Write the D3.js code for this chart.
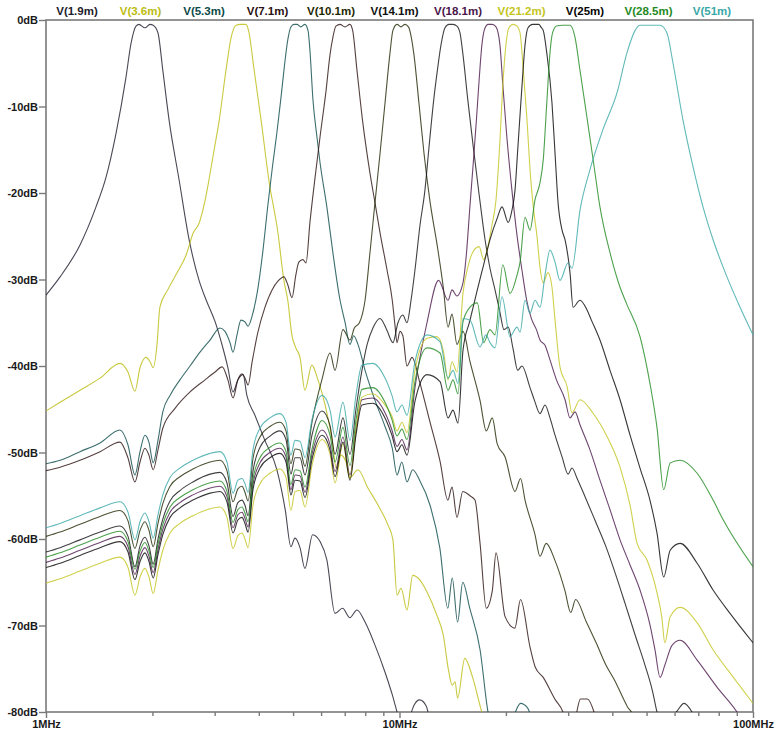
<!DOCTYPE html>
<html>
<head>
<meta charset="utf-8">
<script src="https://cdn.jsdelivr.net/npm/d3@7"></script>
<style>
body { margin: 0; background: #fff; }
text { font-family: Arial, "Liberation Sans", sans-serif; font-weight: bold; font-size: 11px; }
</style>
</head>
<body>
<div id="chart"></div>
<script>
// frequency in MHz, level in dB
var v1_9 = [[1.00,-31.8],[1.096,-29.7],[1.248,-26.0],[1.385,-21.6],[1.478,-18.2],[1.578,-13.1],[1.684,-6.6],[1.74,-2.7],[1.797,-0.7],[1.832,-0.5],[1.905,-0.9],[1.969,-0.5],[2.01,-0.6],[2.074,-1.5],[2.14,-5.8],[2.23,-11.6],[2.38,-18.5],[2.54,-25.4],[2.71,-30.1],[2.84,-32.4],[3.01,-34.9],[3.15,-37.6],[3.27,-40.2],[3.38,-43.0],[3.49,-41.6],[3.61,-41.0],[3.70,-43.4],[3.90,-45.7],[4.16,-48.6],[4.50,-52.0],[4.75,-56.6],[4.93,-60.9],[5.06,-59.9],[5.23,-61.0],[5.40,-63.4],[5.68,-59.5],[5.96,-60.3],[6.23,-62.4],[6.57,-68.6],[6.90,-68.0],[7.24,-69.1],[7.58,-68.2],[7.99,-69.6],[8.53,-72.3],[9.10,-75.4],[9.54,-78.0],[9.84,-80.0],[10.2,-82.0],[10.6,-81.0],[11.0,-79.2],[11.4,-78.6],[11.9,-79.3],[12.2,-81.0],[12.7,-83.0]];

var v3_6 = [[1.00,-45.2],[1.096,-44.2],[1.248,-42.8],[1.422,-41.4],[1.619,-39.7],[1.705,-40.7],[1.785,-42.9],[1.845,-40.2],[1.918,-39.0],[1.969,-39.5],[2.01,-40.2],[2.06,-37.6],[2.10,-33.2],[2.21,-31.2],[2.35,-29.2],[2.49,-27.2],[2.61,-24.6],[2.71,-23.5],[2.82,-20.8],[2.89,-18.5],[2.99,-15.0],[3.09,-11.6],[3.23,-5.8],[3.34,-2.0],[3.45,-0.6],[3.54,-0.5],[3.68,-0.5],[3.74,-1.2],[3.88,-5.8],[4.06,-11.6],[4.27,-18.5],[4.53,-24.6],[4.71,-30.1],[4.83,-32.4],[4.96,-36.4],[5.09,-37.9],[5.23,-39.0],[5.40,-42.8],[5.65,-39.9],[5.88,-41.6],[6.16,-44.5],[6.45,-48.6],[6.62,-51.8],[6.83,-50.3],[7.06,-51.1],[7.24,-52.9],[7.63,-52.0],[8.14,-54.1],[8.70,-56.1],[9.28,-58.4],[9.58,-60.1],[9.84,-66.5],[10.1,-65.7],[10.5,-68.2],[10.9,-64.2],[11.4,-64.7],[11.95,-66.1],[12.75,-68.8],[13.3,-71.1],[13.75,-75.1],[14.1,-76.9],[14.36,-76.5],[14.6,-78.4],[15.3,-73.8],[16.1,-76.0],[17.1,-80.0],[17.8,-82.0]];

var v5_3 = [[1.00,-51.3],[1.096,-50.9],[1.248,-49.9],[1.422,-48.9],[1.619,-47.4],[1.705,-49.1],[1.785,-52.6],[1.845,-49.9],[1.905,-48.0],[1.955,-48.8],[2.01,-51.2],[2.074,-48.6],[2.14,-45.3],[2.243,-43.4],[2.393,-41.6],[2.555,-40.0],[2.727,-38.4],[2.911,-37.0],[3.106,-35.6],[3.209,-36.0],[3.315,-37.3],[3.381,-38.4],[3.47,-36.4],[3.56,-34.7],[3.655,-34.9],[3.73,-35.4],[3.83,-34.2],[3.97,-31.2],[4.11,-26.6],[4.24,-21.5],[4.37,-17.0],[4.50,-13.0],[4.62,-9.0],[4.72,-5.5],[4.83,-2.3],[4.93,-0.8],[5.03,-0.5],[5.13,-0.5],[5.26,-0.8],[5.40,-0.5],[5.51,-1.2],[5.58,-3.5],[5.69,-9.2],[5.84,-13.5],[5.96,-16.5],[6.23,-21.6],[6.48,-26.9],[6.79,-32.4],[7.01,-34.9],[7.24,-37.5],[7.42,-36.5],[7.63,-37.5],[7.99,-40.5],[8.53,-44.0],[9.10,-47.0],[9.54,-49.5],[9.84,-52.6],[10.15,-51.1],[10.5,-53.4],[10.9,-52.0],[11.4,-53.2],[12.2,-56.1],[13.0,-61.0],[13.7,-68.0],[14.1,-64.5],[14.6,-69.6],[15.1,-65.0],[15.8,-68.0],[16.9,-72.8],[17.8,-80.0],[18.6,-82.5],[20.0,-82.0],[21.0,-80.5],[22.0,-79.0],[23.0,-79.5],[23.8,-81.0],[25.0,-84.0]];

var v7_1 = [[1.00,-52.1],[1.096,-51.7],[1.248,-50.9],[1.422,-49.9],[1.619,-48.8],[1.705,-50.6],[1.785,-53.4],[1.845,-51.1],[1.905,-49.5],[1.955,-50.3],[2.01,-52.0],[2.074,-49.7],[2.14,-47.2],[2.317,-44.9],[2.555,-43.0],[2.818,-41.6],[3.007,-40.7],[3.15,-40.1],[3.27,-41.6],[3.381,-43.7],[3.49,-41.6],[3.585,-40.9],[3.655,-41.4],[3.73,-42.2],[3.83,-39.5],[3.97,-36.2],[4.164,-33.2],[4.36,-31.2],[4.53,-30.2],[4.71,-29.7],[4.83,-30.6],[4.965,-32.1],[5.09,-29.5],[5.19,-28.0],[5.33,-27.7],[5.44,-28.1],[5.58,-23.4],[5.77,-18.2],[5.96,-13.5],[6.2,-8.1],[6.36,-4.0],[6.48,-2.0],[6.61,-0.7],[6.79,-0.5],[7.01,-0.8],[7.24,-0.5],[7.37,-1.2],[7.58,-5.8],[7.86,-11.6],[8.25,-17.7],[8.53,-21.2],[8.81,-24.6],[9.22,-28.9],[9.54,-32.4],[9.71,-35.3],[9.84,-37.3],[10.03,-36.0],[10.22,-36.5],[10.5,-40.0],[10.85,-39.0],[11.43,-42.0],[12.2,-46.5],[13.02,-51.0],[13.7,-55.5],[14.08,-54.0],[14.54,-57.5],[15.1,-54.5],[15.83,-55.0],[16.35,-55.5],[16.9,-60.5],[17.6,-68.0],[18.3,-66.0],[18.75,-61.6],[19.9,-69.0],[21.2,-70.3],[22.0,-67.0],[23.4,-72.5],[24.2,-74.8],[25.5,-76.0],[27.5,-78.5],[29.0,-80.0],[30.0,-82.0],[31.5,-80.5],[32.5,-78.5],[34.0,-78.5],[35.5,-80.0],[37.0,-83.0]];

var v10_1 = [[1.00,-59.7],[1.096,-59.2],[1.248,-58.3],[1.422,-57.4],[1.619,-56.7],[1.706,-57.9],[1.785,-61.1],[1.845,-59.0],[1.905,-58.0],[1.956,-59.0],[2.01,-60.9],[2.074,-58.2],[2.14,-55.9],[2.243,-53.9],[2.393,-52.8],[2.605,-51.9],[2.911,-51.1],[3.106,-50.9],[3.25,-52.1],[3.381,-55.7],[3.49,-54.2],[3.585,-53.9],[3.655,-54.6],[3.73,-55.6],[3.85,-50.7],[4.03,-48.2],[4.302,-47.0],[4.59,-46.5],[4.775,-47.5],[4.93,-51.3],[5.063,-49.6],[5.23,-49.7],[5.403,-51.6],[5.655,-46.5],[6.04,-41.5],[6.36,-38.5],[6.57,-40.5],[6.92,-35.8],[7.244,-37.0],[7.45,-35.6],[7.7,-35.0],[7.99,-32.4],[8.25,-26.9],[8.53,-21.0],[8.81,-15.4],[9.10,-9.6],[9.40,-3.8],[9.58,-1.2],[9.84,-0.5],[10.1,-0.8],[10.36,-0.5],[10.6,-0.8],[10.97,-3.8],[11.35,-9.6],[11.73,-15.4],[12.2,-21.0],[12.8,-26.2],[13.3,-30.9],[13.72,-35.5],[14.08,-34.0],[14.54,-37.5],[15.12,-36.0],[15.83,-39.5],[16.9,-44.0],[17.6,-47.5],[18.3,-46.0],[18.9,-49.0],[19.88,-50.5],[21.22,-54.5],[22.0,-53.0],[22.65,-55.5],[24.17,-59.5],[24.97,-62.0],[26.0,-60.5],[27.54,-62.5],[29.39,-66.0],[30.5,-68.5],[31.5,-67.0],[33.7,-69.5],[36.0,-72.0],[38.3,-74.5],[40.8,-76.5],[42.8,-78.3],[44.3,-79.5],[45.3,-80.0],[47.9,-82.7]];

var v14_1 = [[1.00,-61.5],[1.096,-61.0],[1.248,-60.1],[1.422,-59.2],[1.619,-58.5],[1.706,-59.7],[1.785,-63.2],[1.845,-60.8],[1.905,-59.8],[1.956,-60.8],[2.01,-62.9],[2.074,-60.0],[2.14,-57.7],[2.243,-55.6],[2.393,-54.4],[2.605,-53.4],[2.911,-52.5],[3.106,-52.3],[3.25,-53.5],[3.381,-57.4],[3.49,-55.8],[3.585,-55.5],[3.655,-56.1],[3.73,-57.3],[3.85,-52.2],[4.03,-49.4],[4.302,-48.1],[4.59,-47.5],[4.775,-48.5],[4.93,-52.5],[5.063,-50.6],[5.23,-50.6],[5.403,-52.6],[5.655,-48.0],[6.04,-45.2],[6.36,-46.9],[6.57,-50.2],[6.92,-46.0],[7.244,-50.2],[7.53,-45.0],[7.83,-40.5],[8.1,-37.5],[8.41,-35.6],[8.81,-34.5],[9.2,-35.8],[9.58,-37.3],[9.9,-35.0],[10.22,-34.1],[10.5,-35.0],[10.78,-32.4],[11.06,-28.9],[11.43,-23.7],[11.8,-19.7],[12.1,-15.0],[12.5,-9.2],[12.8,-5.8],[13.1,-2.9],[13.45,-0.9],[13.8,-0.5],[14.17,-0.5],[14.54,-0.7],[14.83,-1.5],[15.12,-4.0],[15.6,-9.2],[16.15,-14.5],[16.8,-20.2],[17.46,-25.4],[18.03,-28.7],[18.63,-31.2],[19.24,-33.8],[19.75,-35.8],[20.3,-35.5],[20.95,-38.0],[21.6,-40.5],[22.2,-40.0],[23.4,-42.5],[24.1,-44.0],[24.97,-45.5],[25.8,-44.5],[26.65,-46.0],[27.54,-48.0],[28.83,-50.5],[29.98,-52.5],[30.76,-51.8],[31.8,-53.0],[33.4,-55.0],[35.7,-57.8],[38.3,-60.8],[40.8,-64.0],[43.5,-67.5],[46.4,-71.1],[49.5,-74.6],[51.9,-77.5],[53.5,-80.0],[55.2,-82.1],[57.6,-80.9],[60.7,-80.0],[63.8,-79.0],[67.2,-80.0],[70.8,-82.1]];

var v18_1 = [[1.00,-62.7],[1.096,-62.2],[1.248,-61.3],[1.422,-60.4],[1.619,-59.7],[1.706,-60.9],[1.785,-64.1],[1.845,-62.0],[1.905,-61.0],[1.956,-62.0],[2.01,-63.9],[2.074,-61.2],[2.14,-58.9],[2.243,-56.9],[2.393,-55.8],[2.605,-54.9],[2.911,-54.1],[3.106,-53.9],[3.25,-55.1],[3.381,-58.7],[3.49,-57.2],[3.585,-56.9],[3.655,-57.6],[3.73,-58.6],[3.85,-53.7],[4.03,-51.2],[4.302,-50.0],[4.59,-49.5],[4.775,-50.5],[4.93,-54.3],[5.063,-52.6],[5.23,-52.7],[5.403,-54.6],[5.655,-50.2],[6.04,-47.4],[6.36,-49.1],[6.57,-52.2],[6.92,-48.2],[7.244,-52.6],[7.53,-47.4],[7.83,-43.9],[8.41,-43.7],[9.10,-45.4],[9.52,-47.4],[9.84,-49.3],[10.16,-48.5],[10.5,-49.7],[11.06,-42.5],[11.96,-35.0],[12.9,-30.1],[13.72,-32.4],[14.08,-31.2],[14.54,-31.9],[15.12,-30.4],[15.45,-27.2],[15.83,-21.4],[16.15,-16.8],[16.5,-11.6],[16.8,-6.9],[17.1,-2.9],[17.46,-0.9],[17.8,-0.5],[18.3,-0.5],[18.75,-0.8],[19.24,-2.9],[19.6,-7.5],[20.1,-13.3],[20.8,-19.7],[21.5,-24.9],[22.2,-28.9],[22.9,-32.4],[23.6,-34.5],[24.4,-35.8],[24.97,-37.0],[25.8,-37.6],[26.65,-39.3],[27.8,-41.6],[29.4,-43.9],[30.36,-46.0],[31.37,-45.3],[32.4,-46.8],[34.58,-49.7],[36.9,-53.2],[39.4,-56.6],[42.06,-60.1],[44.9,-63.0],[47.9,-65.9],[51.1,-69.9],[52.8,-72.8],[54.6,-76.0],[56.3,-74.6],[59.0,-72.3],[62.2,-71.7],[69.5,-74.0],[79.0,-77.1],[90.1,-80.0],[95.0,-81.5]];

var v21_2 = [[1.00,-65.1],[1.096,-64.6],[1.248,-63.7],[1.422,-62.8],[1.619,-62.1],[1.706,-63.3],[1.785,-66.5],[1.845,-64.4],[1.905,-63.4],[1.956,-64.4],[2.01,-66.3],[2.074,-63.6],[2.14,-61.3],[2.243,-59.3],[2.393,-58.2],[2.605,-57.3],[2.911,-56.5],[3.106,-56.3],[3.25,-57.5],[3.381,-61.1],[3.49,-59.6],[3.585,-59.3],[3.655,-60.0],[3.73,-61.0],[3.85,-56.1],[4.03,-53.6],[4.302,-52.4],[4.59,-51.9],[4.775,-52.9],[4.93,-56.7],[5.063,-54.5],[5.23,-54.4],[5.403,-56.3],[5.655,-51.5],[6.04,-48.5],[6.36,-50.2],[6.57,-53.5],[6.92,-49.0],[7.244,-53.0],[7.53,-47.4],[7.83,-43.6],[8.41,-43.2],[9.10,-44.5],[9.52,-45.8],[9.84,-47.5],[10.16,-46.5],[10.5,-47.7],[11.06,-40.5],[11.96,-36.8],[12.75,-36.6],[13.3,-38.2],[13.72,-41.6],[14.08,-39.5],[14.54,-40.7],[15.12,-31.6],[15.6,-28.6],[16.25,-26.6],[16.8,-26.2],[17.3,-27.7],[17.7,-26.6],[18.3,-23.5],[18.75,-20.8],[19.24,-13.9],[19.6,-7.5],[20.0,-2.9],[20.4,-0.9],[20.95,-0.5],[21.5,-0.7],[21.93,-1.5],[22.4,-5.8],[22.95,-11.6],[23.4,-17.3],[23.9,-21.6],[24.5,-25.1],[24.97,-28.6],[25.5,-30.4],[26.3,-29.2],[27.0,-30.9],[27.54,-34.7],[28.44,-40.1],[29.8,-42.4],[30.76,-45.4],[32.4,-43.9],[35.2,-45.4],[38.7,-48.2],[42.06,-51.7],[44.9,-56.1],[47.0,-60.5],[50.1,-62.4],[53.5,-66.2],[55.2,-69.0],[56.3,-72.0],[58.3,-69.0],[62.2,-67.9],[69.5,-69.7],[77.1,-72.8],[88.0,-76.0],[100,-79.0]];

var v25 = [[1.00,-63.3],[1.096,-62.8],[1.248,-61.9],[1.422,-61.0],[1.619,-60.3],[1.706,-61.5],[1.785,-64.7],[1.845,-62.6],[1.905,-61.6],[1.956,-62.6],[2.01,-64.5],[2.074,-61.8],[2.14,-59.5],[2.243,-57.5],[2.393,-56.4],[2.605,-55.5],[2.911,-54.7],[3.106,-54.5],[3.25,-55.7],[3.381,-59.3],[3.49,-57.8],[3.585,-57.5],[3.655,-58.2],[3.73,-59.2],[3.85,-54.3],[4.03,-51.8],[4.302,-50.6],[4.59,-50.1],[4.775,-51.1],[4.93,-54.9],[5.063,-53.2],[5.23,-53.3],[5.403,-55.2],[5.655,-50.8],[6.04,-48.0],[6.36,-49.7],[6.57,-52.8],[6.92,-48.8],[7.244,-53.2],[7.53,-48.0],[7.83,-44.5],[8.41,-44.3],[9.10,-46.0],[9.52,-48.0],[9.84,-49.9],[10.16,-49.1],[10.5,-50.3],[11.06,-44.1],[11.96,-41.0],[13.02,-41.8],[13.72,-46.0],[14.17,-45.1],[14.64,-46.6],[15.12,-38.2],[15.83,-34.7],[16.6,-31.2],[17.3,-28.3],[18.03,-25.4],[18.9,-22.9],[19.5,-21.6],[20.3,-23.4],[20.8,-22.0],[21.22,-19.7],[21.6,-15.0],[22.2,-7.7],[22.65,-2.9],[23.1,-0.9],[23.8,-0.5],[24.8,-0.5],[25.1,-0.8],[25.5,-1.2],[26.1,-3.8],[27.0,-9.6],[27.54,-15.4],[28.1,-21.2],[28.83,-24.3],[29.39,-25.4],[30.36,-29.2],[30.97,-33.2],[32.4,-32.4],[33.9,-33.5],[34.9,-34.7],[36.9,-37.0],[39.4,-40.5],[42.06,-43.9],[44.9,-48.0],[47.9,-51.8],[51.1,-55.5],[53.5,-59.3],[55.9,-64.4],[58.3,-61.3],[62.2,-60.5],[69.5,-62.8],[77.1,-65.9],[86.1,-68.6],[100,-72.0]];

var v28_5 = [[1.00,-62.1],[1.096,-61.6],[1.248,-60.7],[1.422,-59.8],[1.619,-59.1],[1.706,-60.3],[1.785,-63.5],[1.845,-61.4],[1.905,-60.4],[1.956,-61.4],[2.01,-63.3],[2.074,-60.6],[2.14,-58.3],[2.243,-56.3],[2.393,-55.2],[2.605,-54.3],[2.911,-53.5],[3.106,-53.3],[3.25,-54.5],[3.381,-58.1],[3.49,-56.6],[3.585,-56.3],[3.655,-57.0],[3.73,-58.0],[3.85,-53.1],[4.03,-50.6],[4.302,-49.4],[4.59,-48.9],[4.775,-49.9],[4.93,-53.7],[5.063,-52.0],[5.23,-52.1],[5.403,-54.0],[5.655,-49.6],[6.04,-46.3],[6.36,-48.0],[6.57,-51.1],[6.92,-47.1],[7.244,-51.5],[7.53,-46.3],[7.83,-42.7],[8.41,-42.5],[9.10,-44.2],[9.52,-46.2],[9.84,-48.1],[10.16,-47.3],[10.5,-48.5],[11.06,-41.8],[11.96,-37.9],[13.02,-38.5],[13.72,-42.8],[14.17,-41.6],[14.64,-43.2],[15.12,-34.9],[15.83,-33.2],[16.6,-32.7],[17.3,-37.3],[18.03,-35.8],[18.63,-36.4],[19.6,-28.3],[20.54,-31.6],[21.5,-29.5],[21.93,-28.0],[22.65,-22.8],[23.4,-24.3],[24.17,-20.8],[24.97,-18.8],[25.5,-16.2],[26.1,-9.6],[26.65,-3.8],[27.1,-1.5],[27.8,-0.7],[28.9,-0.6],[30.36,-0.6],[31.37,-2.0],[32.4,-5.8],[34.0,-11.6],[35.4,-16.5],[36.9,-21.6],[39.4,-26.9],[42.06,-30.9],[44.0,-32.9],[47.9,-36.6],[51.1,-42.0],[53.5,-47.1],[55.9,-54.3],[58.3,-51.2],[62.2,-50.9],[69.5,-52.4],[77.1,-55.5],[82.4,-57.8],[100,-63.2]];

var v51 = [[1.00,-58.7],[1.096,-58.2],[1.248,-57.3],[1.422,-56.4],[1.619,-55.7],[1.706,-56.9],[1.785,-60.1],[1.845,-58.0],[1.905,-57.0],[1.956,-58.0],[2.01,-59.9],[2.074,-57.2],[2.14,-54.9],[2.243,-52.9],[2.393,-51.8],[2.605,-50.9],[2.911,-50.1],[3.106,-49.9],[3.25,-51.1],[3.381,-54.7],[3.49,-53.2],[3.585,-53.0],[3.655,-53.6],[3.73,-54.6],[3.85,-49.7],[4.03,-47.2],[4.302,-46.0],[4.59,-45.5],[4.775,-46.5],[4.93,-50.3],[5.063,-48.6],[5.23,-48.7],[5.403,-50.6],[5.655,-46.2],[6.04,-43.4],[6.36,-45.1],[6.57,-48.2],[6.92,-44.2],[7.244,-48.6],[7.53,-43.4],[7.83,-39.9],[8.41,-39.7],[9.10,-41.4],[9.52,-43.4],[9.84,-45.3],[10.16,-44.5],[10.5,-45.7],[11.06,-39.5],[11.96,-36.4],[13.02,-37.2],[13.72,-41.4],[14.17,-40.5],[14.64,-42.0],[15.12,-34.5],[15.83,-34.7],[16.9,-37.8],[17.56,-36.4],[18.03,-37.3],[18.63,-37.9],[19.5,-32.0],[20.54,-36.6],[21.5,-35.5],[21.93,-36.1],[22.65,-32.4],[23.4,-33.9],[24.17,-32.4],[24.97,-33.2],[25.8,-29.5],[26.65,-26.6],[27.54,-28.0],[28.44,-30.1],[29.98,-28.1],[30.76,-28.7],[32.4,-22.0],[34.58,-17.3],[37.6,-12.7],[41.25,-8.4],[44.0,-3.8],[46.4,-1.2],[47.9,-0.6],[54.6,-0.6],[57.1,-1.5],[59.4,-5.0],[63.4,-11.6],[67.7,-17.0],[72.2,-21.6],[77.1,-25.4],[84.4,-29.7],[91.9,-33.2],[100,-36.4]];

var names = ['V(1.9m)','V(3.6m)','V(5.3m)','V(7.1m)','V(10.1m)','V(14.1m)','V(18.1m)','V(21.2m)','V(25m)','V(28.5m)','V(51m)'];
var series = [v1_9, v3_6, v5_3, v7_1, v10_1, v14_1, v18_1, v21_2, v25, v28_5, v51];
var colors = ['#1c1c2c','#bcbc10','#0c4a4a','#2a1010','#1e2800','#111111','#4a164a','#c4c420','#050505','#1f8a1f','#3aa8a8'];

var yTicks = [0,-10,-20,-30,-40,-50,-60,-70,-80];
var xMajor = [1,10,100];
var xMinor = [2,3,4,5,6,7,8,9,20,30,40,50,60,70,80,90];

var width = 774, height = 734;
var margin = {left: 46, right: 21, top: 20, bottom: 22};

var x = d3.scaleLog().domain([1,100]).range([margin.left, width - margin.right]);
var y = d3.scaleLinear().domain([-80,0]).range([height - margin.bottom, margin.top]);

var svg = d3.select('#chart').append('svg')
	.attr('width', width)
	.attr('height', height);

svg.append('defs').append('clipPath').attr('id','plotclip')
	.append('rect')
	.attr('x', x(1)).attr('y', y(0))
	.attr('width', x(100) - x(1)).attr('height', y(-80) - y(0));

// axes
svg.append('g')
	.attr('transform', 'translate(' + x(1) + ',0)')
	.call(d3.axisLeft(y).tickValues(yTicks).tickSize(7).tickPadding(1).tickFormat(function(d){ return d + 'dB'; }));

svg.append('g')
	.attr('transform', 'translate(0,' + y(-80) + ')')
	.call(d3.axisBottom(x).tickValues(xMinor).tickSize(4).tickFormat(''));

svg.append('g')
	.attr('transform', 'translate(0,' + y(-80) + ')')
	.call(d3.axisBottom(x).tickValues(xMajor).tickSize(6).tickPadding(2).tickFormat(function(d){ return d + 'MHz'; }));

svg.selectAll('.domain').remove();
svg.selectAll('.tick line').attr('stroke', '#7a7a7a').attr('stroke-width', 1.4);
svg.selectAll('.tick text').attr('fill', '#1a1a1a')
	.style('font-size', '11px').style('font-weight', 'bold')
	.style('font-family', 'Arial, "Liberation Sans", sans-serif');

// frame
svg.append('rect')
	.attr('x', x(1)).attr('y', y(0))
	.attr('width', x(100) - x(1)).attr('height', y(-80) - y(0))
	.attr('fill', 'none')
	.attr('stroke', '#7a7a7a')
	.attr('stroke-width', 1.6);

// traces
var line = d3.line()
	.x(function(d){ return x(d[0]); })
	.y(function(d){ return y(d[1]); })
	.curve(d3.curveMonotoneX);

var plot = svg.append('g').attr('clip-path', 'url(#plotclip)');

plot.selectAll('path.trace')
	.data(series)
	.enter().append('path')
	.attr('class', 'trace')
	.attr('d', line)
	.attr('fill', 'none')
	.attr('stroke', function(d, i){ return colors[i]; })
	.attr('stroke-width', 1.1)
	.attr('stroke-opacity', 0.8);

// legend along the top
var lx = d3.scalePoint().domain(names).range([77, 712]);

svg.selectAll('text.legend')
	.data(names)
	.enter().append('text')
	.attr('class', 'legend')
	.attr('x', function(d){ return lx(d); })
	.attr('y', 15)
	.attr('text-anchor', 'middle')
	.attr('fill', function(d, i){ return colors[i]; })
	.style('font-size', '11.5px')
	.text(function(d){ return d; });
</script>
</body>
</html>
